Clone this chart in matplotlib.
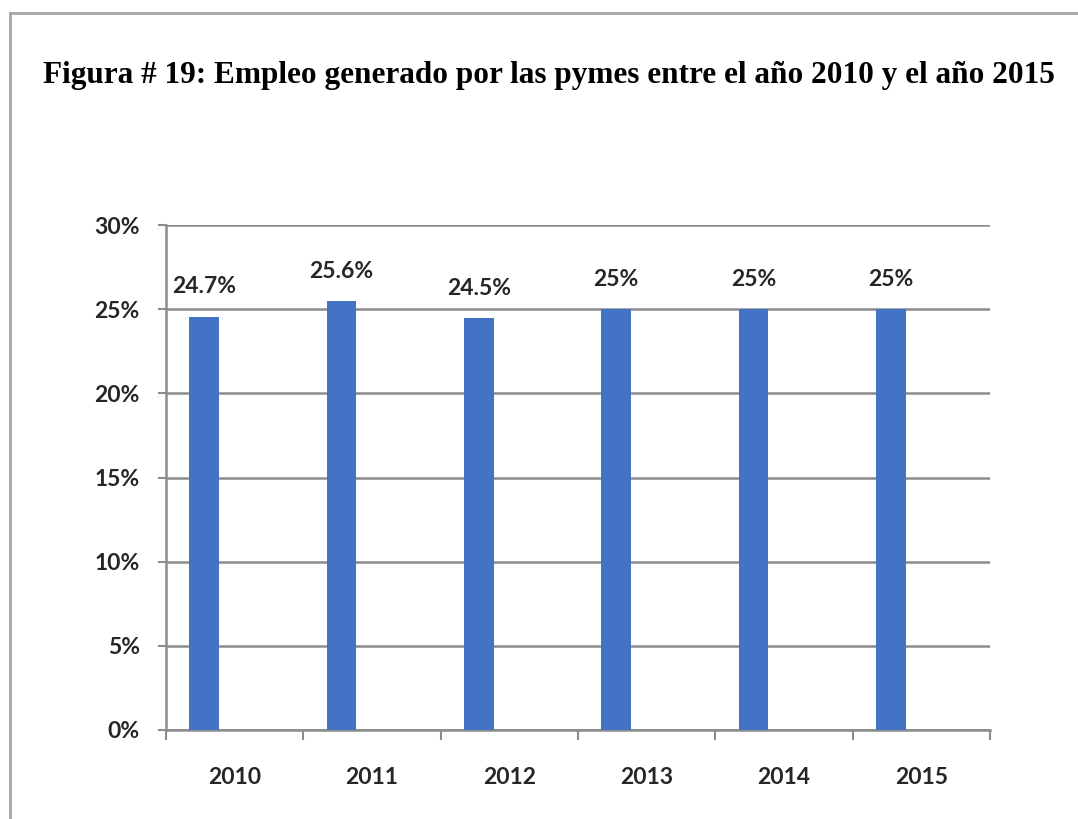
import matplotlib
matplotlib.use("Agg")
import matplotlib.pyplot as plt
from matplotlib.lines import Line2D
import numpy as np

# data
years = ["2010", "2011", "2012", "2013", "2014", "2015"]
bar_values = [24.55, 25.47, 24.45, 25.0, 25.0, 25.0]
value_labels = ["24.7%", "25.6%", "24.5%", "25%", "25%", "25%"]
y_ticks = [0, 5, 10, 15, 20, 25, 30]

TITLE = "Figura # 19: Empleo generado por las pymes entre el año 2010 y el año 2015"
BAR_COLOR = "#4472C4"
GRID_COLOR = "#8c8c8c"
TEXT_COLOR = "#262626"
LABEL_FONT = ["Lato", "DejaVu Sans"]
LABEL_SIZE = 16.5

fig = plt.figure(figsize=(10.78, 8.19), dpi=100)
ax = fig.add_axes([166 / 1078, 89 / 819, 824 / 1078, 505 / 819])

# outer frame (left and top edges only visible)
fig.add_artist(Line2D([10 / 1078, 10 / 1078], [0, 1 - 13 / 819],
                      transform=fig.transFigure, color="#a6a6a6", lw=2))
fig.add_artist(Line2D([10 / 1078, 1], [1 - 13 / 819, 1 - 13 / 819],
                      transform=fig.transFigure, color="#a6a6a6", lw=2))

fig.text(43 / 1078, 1 - 75 / 819, TITLE, family="Liberation Serif",
         weight="bold", fontsize=22.5, va="center", ha="left", color="black")

x = np.arange(len(years))
bar_pos = x + 0.278
ax.bar(bar_pos, bar_values, width=0.218, color=BAR_COLOR, zorder=3)

for xp, v, lab in zip(bar_pos, bar_values, value_labels):
    ax.annotate(lab, (xp, v), xytext=(0, 14), textcoords="offset points",
                ha="center", va="bottom", family=LABEL_FONT, weight="bold",
                fontsize=LABEL_SIZE, color=TEXT_COLOR)

ax.set_xlim(0, len(years))
ax.set_ylim(0, 30)
ax.set_yticks(y_ticks)
ax.set_yticklabels(["%d%%" % t for t in y_ticks], family=LABEL_FONT,
                   weight="bold", fontsize=LABEL_SIZE, color=TEXT_COLOR)
ax.set_xticks(np.arange(len(years) + 1))
ax.set_xticklabels([])
ax.set_xticks(x + 0.5, minor=True)
ax.set_xticklabels(years, minor=True, family=LABEL_FONT, weight="bold",
                   fontsize=LABEL_SIZE, color=TEXT_COLOR)

ax.tick_params(axis="y", length=6, width=1.5, color=GRID_COLOR, pad=13)
ax.tick_params(axis="x", which="major", length=7, width=1.5, color=GRID_COLOR)
ax.tick_params(axis="x", which="minor", length=0, pad=27)

ax.grid(axis="y", color=GRID_COLOR, lw=1.8, zorder=0)
for side in ("top", "right"):
    ax.spines[side].set_visible(False)
for side in ("left", "bottom"):
    ax.spines[side].set_color(GRID_COLOR)
    ax.spines[side].set_linewidth(1.8)

fig.savefig("out.png", dpi=100)
